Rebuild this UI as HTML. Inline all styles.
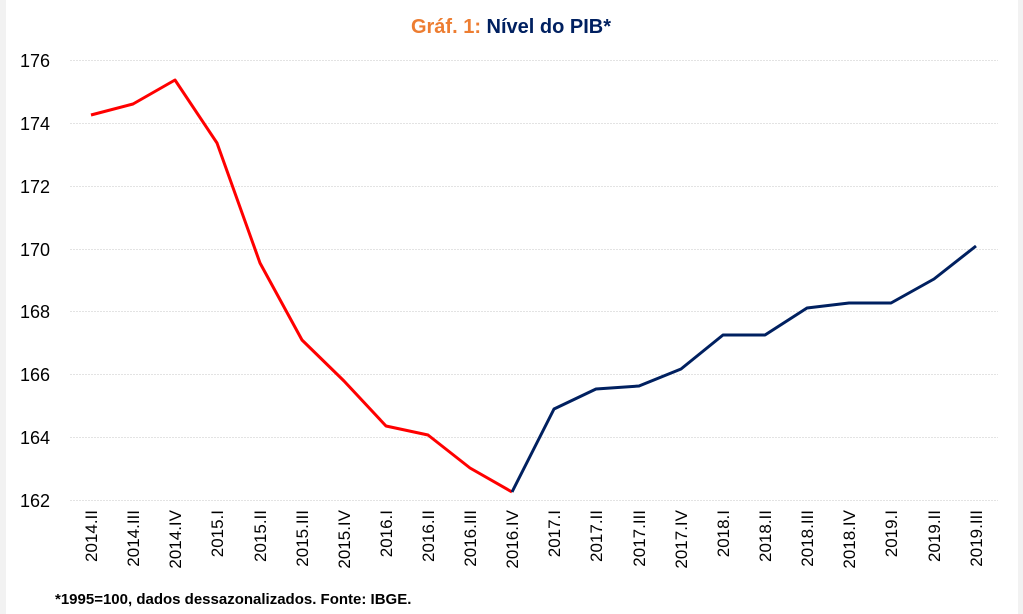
<!DOCTYPE html>
<html><head><meta charset="utf-8"><style>
html,body{margin:0;padding:0;background:#f2f2f2;}
body{width:1023px;height:614px;position:relative;overflow:hidden;font-family:"Liberation Sans",sans-serif;}
#w{position:absolute;left:6px;top:0;width:1012px;height:614px;background:#fff;}
</style></head><body><div id="w"></div>
<svg width="1023" height="614" style="position:absolute;left:0;top:0" font-family="Liberation Sans, sans-serif">
<text x="511" y="33" text-anchor="middle" font-size="20" font-weight="bold"><tspan fill="#ED7D31">Gráf. 1: </tspan><tspan fill="#002060">Nível do PIB*</tspan></text>
<g stroke="#e3e3e3" stroke-width="1" stroke-dasharray="2,1">
<line x1="70" x2="998" y1="60.5" y2="60.5"/><line x1="70" x2="998" y1="123.5" y2="123.5"/>
<line x1="70" x2="998" y1="186.5" y2="186.5"/><line x1="70" x2="998" y1="249.5" y2="249.5"/>
<line x1="70" x2="998" y1="311.5" y2="311.5"/><line x1="70" x2="998" y1="374.5" y2="374.5"/>
<line x1="70" x2="998" y1="437.5" y2="437.5"/><line x1="70" x2="998" y1="500.5" y2="500.5"/>
</g>
<g font-size="18" fill="#000" text-anchor="end">
<text x="50" y="67">176</text><text x="50" y="130">174</text><text x="50" y="193">172</text>
<text x="50" y="256">170</text><text x="50" y="318">168</text><text x="50" y="381">166</text>
<text x="50" y="444">164</text><text x="50" y="507">162</text>
</g>
<polyline fill="none" stroke="#ff0000" stroke-width="3" stroke-linejoin="round" points="91,115 133,104 175,80 217,143 260,263 302,340 344,381 386,426 428,435 470,468 512,492"/>
<polyline fill="none" stroke="#002060" stroke-width="3" stroke-linejoin="round" points="512,492 554,409 596,389 639,386 681,369 723,335 765,335 807,308 849,303 891,303 934,279 976,246"/>
<g font-size="17" fill="#000" text-anchor="end">
<text transform="translate(97,510) rotate(-90)">2014.II</text>
<text transform="translate(139,510) rotate(-90)">2014.III</text>
<text transform="translate(181,510) rotate(-90)">2014.IV</text>
<text transform="translate(223,510) rotate(-90)">2015.I</text>
<text transform="translate(266,510) rotate(-90)">2015.II</text>
<text transform="translate(308,510) rotate(-90)">2015.III</text>
<text transform="translate(350,510) rotate(-90)">2015.IV</text>
<text transform="translate(392,510) rotate(-90)">2016.I</text>
<text transform="translate(434,510) rotate(-90)">2016.II</text>
<text transform="translate(476,510) rotate(-90)">2016.III</text>
<text transform="translate(518,510) rotate(-90)">2016.IV</text>
<text transform="translate(560,510) rotate(-90)">2017.I</text>
<text transform="translate(602,510) rotate(-90)">2017.II</text>
<text transform="translate(645,510) rotate(-90)">2017.III</text>
<text transform="translate(687,510) rotate(-90)">2017.IV</text>
<text transform="translate(729,510) rotate(-90)">2018.I</text>
<text transform="translate(771,510) rotate(-90)">2018.II</text>
<text transform="translate(813,510) rotate(-90)">2018.III</text>
<text transform="translate(855,510) rotate(-90)">2018.IV</text>
<text transform="translate(897,510) rotate(-90)">2019.I</text>
<text transform="translate(940,510) rotate(-90)">2019.II</text>
<text transform="translate(982,510) rotate(-90)">2019.III</text>
</g>
<text x="55" y="604" font-size="15" font-weight="bold" fill="#000">*1995=100, dados dessazonalizados. Fonte: IBGE.</text>
</svg>
</body></html>
